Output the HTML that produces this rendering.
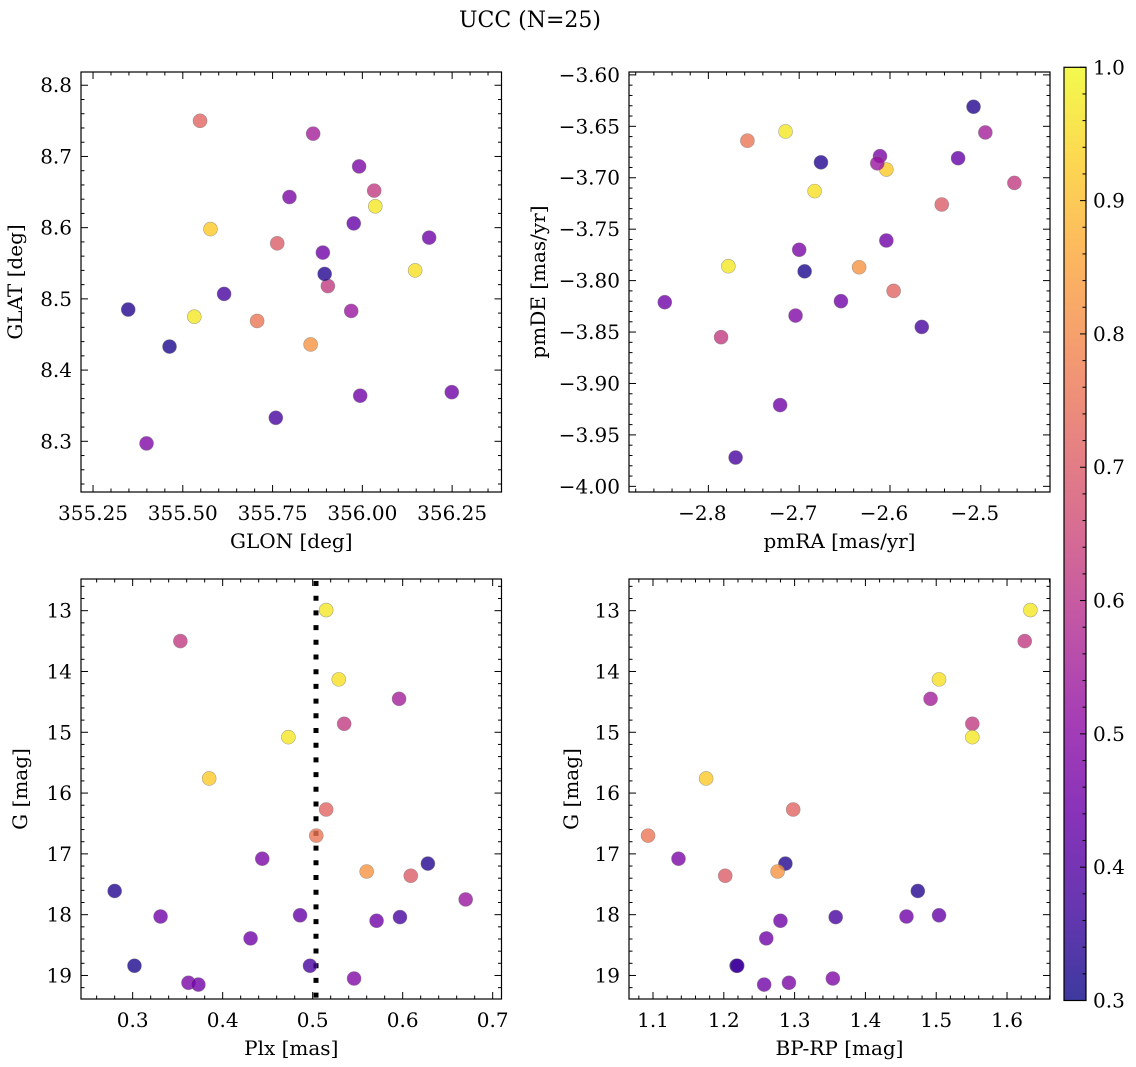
<!DOCTYPE html>
<html>
<head>
<meta charset="utf-8">
<style>
html,body{margin:0;padding:0;background:#fff;}
svg{display:block;font-family:"DejaVu Serif","Liberation Serif",serif;}
</style>
</head>
<body>
<svg id="fig" width="1136" height="1067" viewBox="0 0 1136 1067" xmlns="http://www.w3.org/2000/svg">
<defs>
<linearGradient id="plasma" x1="0" y1="1" x2="0" y2="0">
<stop offset="0" stop-color="#0d0887"/><stop offset="0.1" stop-color="#41049d"/><stop offset="0.2" stop-color="#6a00a8"/><stop offset="0.3" stop-color="#8f0da4"/><stop offset="0.4" stop-color="#b12a90"/><stop offset="0.5" stop-color="#cc4778"/><stop offset="0.6" stop-color="#e16462"/><stop offset="0.7" stop-color="#f2844b"/><stop offset="0.8" stop-color="#fca636"/><stop offset="0.9" stop-color="#fcce25"/><stop offset="1" stop-color="#f0f921"/>
</linearGradient>
</defs>
<text x="530" y="27" font-size="22" text-anchor="middle">UCC (N=25)</text>
</svg>
<script>
const probs = [0.97,0.62,0.96,0.55,0.62,0.97,0.92,0.72,0.76,0.47,0.33,0.82,0.70,0.33,0.53,0.45,0.43,0.45,0.38,0.45,0.32,0.38,0.47,0.45,0.48];
const glon = [356.036,356.033,356.147,355.863,355.904,355.532,355.577,355.548,355.707,355.991,355.895,355.856,355.763,355.348,355.969,355.994,355.976,356.249,355.615,356.186,355.463,355.759,355.797,355.890,355.399];
const glat = [8.630,8.652,8.540,8.732,8.518,8.475,8.598,8.750,8.469,8.686,8.535,8.436,8.578,8.485,8.483,8.364,8.606,8.369,8.507,8.586,8.433,8.333,8.643,8.565,8.297];
const pmra = [-2.715,-2.463,-2.683,-2.495,-2.786,-2.778,-2.604,-2.596,-2.757,-2.611,-2.508,-2.634,-2.543,-2.676,-2.614,-2.848,-2.525,-2.654,-2.565,-2.721,-2.694,-2.770,-2.700,-2.604,-2.704];
const pmde = [-3.655,-3.705,-3.713,-3.656,-3.855,-3.786,-3.692,-3.810,-3.664,-3.679,-3.631,-3.787,-3.726,-3.685,-3.686,-3.821,-3.681,-3.820,-3.845,-3.921,-3.791,-3.972,-3.770,-3.761,-3.834];
const plx = [0.515,0.353,0.529,0.596,0.535,0.473,0.385,0.515,0.504,0.444,0.628,0.560,0.609,0.280,0.670,0.331,0.486,0.571,0.597,0.431,0.302,0.497,0.362,0.373,0.546];
const gmag = [12.99,13.50,14.13,14.45,14.86,15.08,15.76,16.27,16.70,17.08,17.16,17.29,17.36,17.61,17.75,18.03,18.01,18.10,18.04,18.39,18.84,18.84,19.12,19.15,19.05];
const bprp = [1.633,1.625,1.504,1.492,1.551,1.551,1.175,1.298,1.093,1.136,1.287,1.276,1.202,1.474,null,1.458,1.504,1.280,1.358,1.260,1.218,1.219,1.292,1.257,1.354];
const plxLine = 0.5037;
const glonTicks = ["355.25","355.50","355.75","356.00","356.25"];
const glatTicks = ["8.3","8.4","8.5","8.6","8.7","8.8"];
const pmraTicks = ["-2.8","-2.7","-2.6","-2.5"];
const pmdeTicks = ["-4.00","-3.95","-3.90","-3.85","-3.80","-3.75","-3.70","-3.65","-3.60"];
const plxTicks = ["0.3","0.4","0.5","0.6","0.7"];
const gTicks = ["13","14","15","16","17","18","19"];
const bprpTicks = ["1.1","1.2","1.3","1.4","1.5","1.6"];
const cbarTicks = ["0.3","0.4","0.5","0.6","0.7","0.8","0.9","1.0"];

const NS = "http://www.w3.org/2000/svg";
const svg = document.getElementById('fig');
const TF = 20, LF = 20;
function mk(tag, attrs, parent){
  const e = document.createElementNS(NS, tag);
  for (const k in attrs) e.setAttribute(k, attrs[k]);
  (parent||svg).appendChild(e);
  return e;
}
const stops = ["#0d0887","#41049d","#6a00a8","#8f0da4","#b12a90","#cc4778","#e16462","#f2844b","#fca636","#fcce25","#f0f921"];
function hex(h){return [parseInt(h.substr(1,2),16),parseInt(h.substr(3,2),16),parseInt(h.substr(5,2),16)];}
function plasma(v){
  let t = Math.max(0, Math.min(1, (v-0.3)/0.7))*10;
  const i = Math.min(9, Math.floor(t)); const f = t - i;
  const a = hex(stops[i]), b = hex(stops[i+1]);
  return 'rgb(' + a.map((c,k)=>Math.round(c+(b[k]-c)*f)).join(',') + ')';
}
function fmt(s){return s.replace('-', '\u2212');}

function panel(cfg){
  const g = mk('g', {});
  
  
  const X = v => cfg.x0 + (v - cfg.xd[0])/(cfg.xd[1]-cfg.xd[0])*(cfg.x1-cfg.x0);
  const Y = v => cfg.yinv ? cfg.y0 + (v - cfg.yd[0])/(cfg.yd[1]-cfg.yd[0])*(cfg.y1-cfg.y0)
                          : cfg.y1 - (v - cfg.yd[0])/(cfg.yd[1]-cfg.yd[0])*(cfg.y1-cfg.y0);
  const tg = mk('g', {stroke:'#000','stroke-width':1}, g);
  
  
  const eps = 1e-9;
  for (let v = Math.ceil(cfg.xd[0]/cfg.xminor - eps)*cfg.xminor; v <= cfg.xd[1]+eps; v += cfg.xminor){
    const isMaj = Math.abs(Math.round(v/cfg.xmajor)*cfg.xmajor - v) < cfg.xminor/10;
    const L = isMaj ? 7 : 3.5; const x = X(v);
    mk('line',{x1:x,x2:x,y1:cfg.y1,y2:cfg.y1-L},tg); mk('line',{x1:x,x2:x,y1:cfg.y0,y2:cfg.y0+L},tg);
  }
  for (let v = Math.ceil(cfg.yd[0]/cfg.yminor - eps)*cfg.yminor; v <= cfg.yd[1]+eps; v += cfg.yminor){
    const isMaj = Math.abs(Math.round(v/cfg.ymajor)*cfg.ymajor - v) < cfg.yminor/10;
    const L = isMaj ? 7 : 3.5; const y = Y(v);
    mk('line',{x1:cfg.x0,x2:cfg.x0+L,y1:y,y2:y},tg); mk('line',{x1:cfg.x1,x2:cfg.x1-L,y1:y,y2:y},tg);
  }
  cfg.xt.forEach(s=>{
    const t = mk('text',{x:X(parseFloat(s)) - (s[0]==='-'?6:0), y:cfg.y1+28,'font-size':TF,'text-anchor':'middle'}, g);
    
    
    t.textContent = fmt(s);
  });
  cfg.yt.forEach(s=>{
    const t = mk('text',{x:cfg.x0-9, y:Y(parseFloat(s))+7,'font-size':TF,'text-anchor':'end'}, g);
    
    
    t.textContent = fmt(s);
  });
  const xl = mk('text',{x:(cfg.x0+cfg.x1)/2, y:cfg.y1+56,'font-size':LF,'text-anchor':'middle'}, g);
  
  
  xl.textContent = cfg.xlabel;
  const yl = mk('text',{x:0,y:0,'font-size':LF,'text-anchor':'middle',transform:'translate('+cfg.ylx+','+((cfg.y0+cfg.y1)/2)+') rotate(-90)'}, g);
  
  
  yl.textContent = cfg.ylabel;
  if (cfg.vline !== undefined){
    const l = mk('line',{x1:X(cfg.vline),x2:X(cfg.vline),y1:cfg.y0+2,y2:cfg.y1,stroke:'#000','stroke-width':5,'stroke-dasharray':'5 9.7'}, g);
    
    
  }
  const pts = mk('g', {}, g);
  
  
  cfg.xs.forEach((xv,i)=>{
    const yv = cfg.ys[i];
    if (xv === null || yv === null) return;
    const c = mk('circle',{cx:X(xv),cy:Y(yv),r:7,fill:plasma(probs[i]),'fill-opacity':0.8,stroke:'#777','stroke-opacity':0.6,'stroke-width':0.6}, pts);
    
    
  });
  const fr = mk('rect',{x:cfg.x0,y:cfg.y0,width:cfg.x1-cfg.x0,height:cfg.y1-cfg.y0,fill:'none',stroke:'#000','stroke-width':1.2}, g);
  
  
}

panel({name:'glon-glat-panel',x0:81,x1:501.5,y0:72,y1:492,xd:[355.2165,356.3875],yd:[8.2288,8.8186],
  xmajor:0.25,xminor:0.05,ymajor:0.1,yminor:0.02,xt:glonTicks,yt:glatTicks,xlabel:'GLON [deg]',ylabel:'GLAT [deg]',ylx:22,xs:glon,ys:glat});
panel({name:'pm-panel',x0:629,x1:1050,y0:72,y1:492,xd:[-2.8874,-2.4238],yd:[-4.0055,-3.5972],
  xmajor:0.1,xminor:0.02,ymajor:0.05,yminor:0.01,xt:pmraTicks,yt:pmdeTicks,xlabel:'pmRA [mas/yr]',ylabel:'pmDE [mas/yr]',ylx:545,xs:pmra,ys:pmde});
panel({name:'plx-g-panel',x0:81,x1:501.5,y0:579,y1:999,xd:[0.2426,0.7098],yd:[12.479,19.387],yinv:true,vline:plxLine,
  xmajor:0.1,xminor:0.02,ymajor:1,yminor:0.2,xt:plxTicks,yt:gTicks,xlabel:'Plx [mas]',ylabel:'G [mag]',ylx:27,xs:plx,ys:gmag});
panel({name:'cmd-panel',x0:629,x1:1050,y0:579,y1:999,xd:[1.0661,1.6607],yd:[12.479,19.387],yinv:true,
  xmajor:0.1,xminor:0.02,ymajor:1,yminor:0.2,xt:bprpTicks,yt:gTicks,xlabel:'BP-RP [mag]',ylabel:'G [mag]',ylx:578,xs:bprp,ys:gmag});

const cb = mk('g', {});


const cbTop = 67.3, cbBot = 1000.5, cbL = 1064, cbR = 1086;
const CY = v => cbBot - (v-0.3)/0.7*(cbBot-cbTop);
mk('rect',{x:cbL,y:cbTop,width:cbR-cbL,height:cbBot-cbTop,fill:'url(#plasma)','fill-opacity':0.8}, cb);
for (let k = 0; k <= 35; k++){
  const v = 0.3 + k*0.02; const maj = (k % 5 === 0);
  mk('line',{x1:cbR,x2:cbR-(maj?6:3.5),y1:CY(v),y2:CY(v),stroke:'#000','stroke-width':1}, cb);
}
cbarTicks.forEach(s=>{
  const t = mk('text',{x:cbR+7,y:CY(parseFloat(s))+7,'font-size':TF}, cb);
  
  
  t.textContent = s;
});
mk('rect',{x:cbL,y:cbTop,width:cbR-cbL,height:cbBot-cbTop,fill:'none',stroke:'#000','stroke-width':1.2}, cb);
</script>
</body>
</html>
